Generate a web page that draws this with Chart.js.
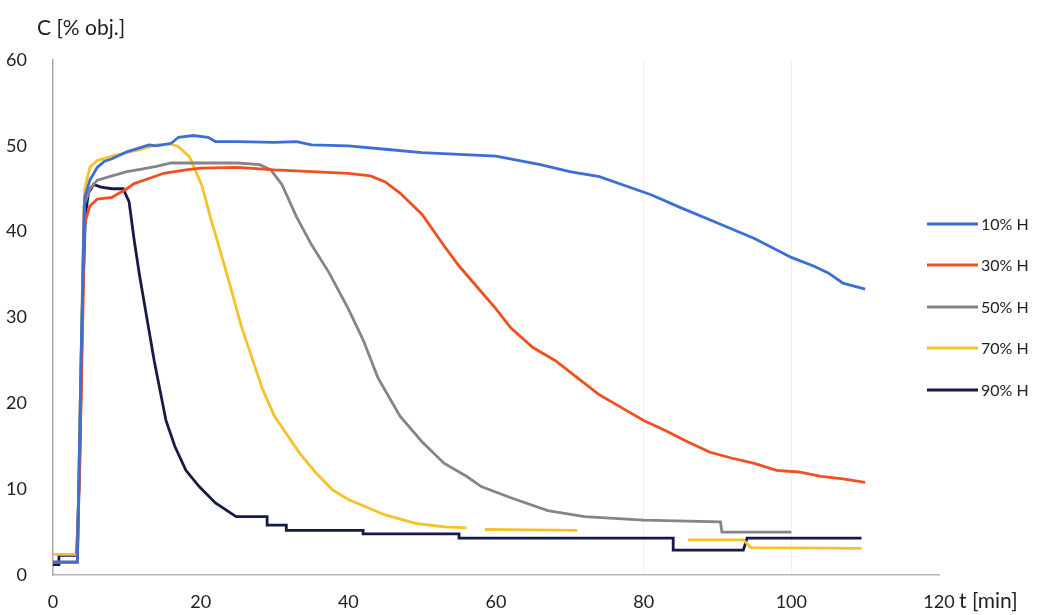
<!DOCTYPE html>
<html>
<head>
<meta charset="utf-8">
<script src="https://cdn.jsdelivr.net/npm/chart.js@4.4.1/dist/chart.umd.min.js"></script>
<style>
  html, body { margin: 0; padding: 0; background: #fff; }
  #wrap { width: 1037px; height: 615px; }
</style>
</head>
<body>
<div id="wrap"><canvas id="chart" width="1037" height="615"></canvas></div>
<script>
// series labels
const labels = ['10% H', '30% H', '50% H', '70% H', '90% H'];
const colors = ['#3b6fd6', '#f0501e', '#858585', '#f5c22a', '#161b45'];

// time [min] and concentration [% obj.] per series
const t10 = [0, 3.3, 3.8, 4.3, 5, 6, 7, 8, 10, 13, 14, 16, 17, 19, 21, 22, 25, 30, 33, 35, 40, 45, 50, 55, 60, 63, 66, 70, 74, 78, 81, 85, 90, 95, 100, 103, 105, 107, 110];
const c10 = [1.5, 1.5, 25, 44, 46, 47.5, 48.2, 48.5, 49.3, 50.1, 50, 50.3, 51, 51.2, 51, 50.5, 50.5, 50.4, 50.5, 50.1, 50, 49.6, 49.2, 49, 48.8, 48.3, 47.8, 47, 46.4, 45.2, 44.3, 42.8, 41, 39.2, 37, 36, 35.2, 34, 33.3];

const t30 = [0, 3.3, 3.8, 4.3, 5, 6, 8, 9, 10, 11, 13, 15, 18, 20, 25, 30, 35, 40, 43, 45, 47, 50, 53, 55, 58, 60, 62, 65, 68, 71, 74, 77, 80, 83, 86, 89, 92, 95, 98, 101, 104, 107, 110];
const c30 = [1.5, 1.5, 20, 41, 43, 43.8, 44, 44.5, 45, 45.6, 46.2, 46.8, 47.2, 47.4, 47.5, 47.2, 47, 46.8, 46.5, 45.8, 44.5, 42, 38.3, 36, 33, 31, 28.8, 26.5, 25, 23, 21, 19.5, 18, 16.8, 15.5, 14.3, 13.6, 13, 12.2, 12, 11.5, 11.2, 10.8];

const t50 = [0, 3.3, 3.8, 4.2, 5, 6, 8, 10, 12, 14, 16, 20, 25, 28, 29.5, 31, 33, 35, 37.4, 40, 42, 44, 47, 50, 53, 56, 58, 62, 67, 72, 80, 90.4, 90.6, 100];
const c50 = [1.5, 1.5, 25, 43, 45, 46, 46.5, 47, 47.3, 47.6, 48, 48, 48, 47.8, 47.2, 45.5, 41.7, 38.5, 35.2, 31, 27.4, 23, 18.5, 15.5, 13, 11.5, 10.3, 9, 7.5, 6.8, 6.4, 6.2, 5.0, 5.0];

const t70 = [0, 3.3, 3.8, 4.3, 5, 6, 8, 10, 12, 14, 16, 17, 18.5, 20.2, 21.4, 22.1, 23.9, 25.5, 28.4, 30, 33.4, 35.5, 37.9, 40, 42.5, 45, 49.2, 53, 56, 56.5, 58.5, 71, 72, 86, 93.5, 94.5, 109.5];
const c70 = [2.4, 2.4, 25, 45, 47.5, 48.3, 48.8, 49.2, 49.6, 50.1, 50.2, 49.9, 48.7, 45.3, 41.4, 39.4, 34, 29, 21.6, 18.5, 14.2, 12, 9.9, 8.8, 7.9, 7, 6, 5.6, 5.5, null, 5.3, 5.2, null, 4.1, 4.1, 3.2, 3.1];

const t90 = [0, 0.8, 0.8, 3.2, 3.6, 4, 4.4, 4.8, 5.5, 6.5, 8, 9.5, 10.3, 11, 11.7, 12.3, 13, 13.7, 14.5, 15.3, 16.5, 18, 19.8, 22, 24.8, 29, 29, 31.6, 31.6, 42, 42, 55, 55, 84, 84, 93.5, 94, 109.5];
const c90 = [1.2, 1.2, 2.3, 2.3, 12, 32, 42, 44.5, 45.5, 45.2, 45, 45, 43.5, 39, 35, 32, 28.5, 25, 21.5, 18, 15, 12.2, 10.3, 8.4, 6.8, 6.8, 5.8, 5.8, 5.2, 5.2, 4.8, 4.8, 4.3, 4.3, 2.9, 2.9, 4.3, 4.3];

// axes
const xTicks = [0, 20, 40, 60, 80, 100, 120];
const yTicks = [0, 10, 20, 30, 40, 50, 60];
const yTitle = 'C [% obj.]';
const xTitle = 't [min]';

const FONT = 'Lato, "Open Sans", sans-serif';

const toPoints = (ts, cs) => ts.map((t, i) => ({ x: t, y: cs[i] }));
const series = [[t10, c10], [t30, c30], [t50, c50], [t70, c70], [t90, c90]];

const datasets = series.map(([ts, cs], i) => ({
    label: labels[i],
    data: toPoints(ts, cs),
    borderColor: colors[i],
    backgroundColor: colors[i],
    borderWidth: 2.8,
    pointRadius: 0,
    tension: 0,
    spanGaps: false,
}));

// legend and axis titles drawn on top of the plot, like the original
const overlay = {
    id: 'overlay',
    afterDraw(chart) {
        const ctx = chart.ctx;
        ctx.save();
        ctx.fillStyle = '#222';
        ctx.textBaseline = 'middle';
        ctx.textAlign = 'left';
        ctx.font = '21px ' + FONT;
        ctx.fillText(yTitle, 37, 28);
        ctx.fillText(xTitle, 959, 601);

        const rows = [224, 265, 307, 348, 390];
        ctx.font = '16px ' + FONT;
        chart.data.datasets.forEach((ds, i) => {
            const y = rows[i];
            ctx.strokeStyle = ds.borderColor;
            ctx.lineWidth = 2.8;
            ctx.beginPath();
            ctx.moveTo(927, y);
            ctx.lineTo(978, y);
            ctx.stroke();
            ctx.fillStyle = '#222';
            ctx.fillText(ds.label, 981, y + 1);
        });
        ctx.restore();
    }
};

new Chart(document.getElementById('chart'), {
    type: 'line',
    data: { datasets },
    options: {
        responsive: false,
        animation: false,
        layout: { padding: { top: 60, right: 98, left: 0, bottom: 0 } },
        plugins: {
            legend: { display: false },
            tooltip: { enabled: false },
        },
        scales: {
            x: {
                type: 'linear',
                min: 0,
                max: 120,
                afterBuildTicks: (scale) => { scale.ticks = xTicks.map(v => ({ value: v })); },
                afterFit: (scale) => { scale.height = 40; },
                ticks: { color: '#222', font: { family: FONT, size: 18 }, padding: 16 },
                grid: {
                    drawTicks: false,
                    color: (c) => (c.tick && (c.tick.value === 80 || c.tick.value === 100)) ? 'rgba(0,0,0,0.06)' : 'rgba(0,0,0,0)',
                },
                border: { display: true, color: '#b8b8b8', width: 1.5 },
            },
            y: {
                min: 0,
                max: 60,
                afterBuildTicks: (scale) => { scale.ticks = yTicks.map(v => ({ value: v })); },
                afterFit: (scale) => { scale.width = 53; },
                ticks: { color: '#222', font: { family: FONT, size: 18 }, padding: 18 },
                grid: { display: false },
                border: { display: true, color: '#a8a8a8', width: 1.5 },
            },
        },
    },
    plugins: [overlay],
});
</script>
</body>
</html>
